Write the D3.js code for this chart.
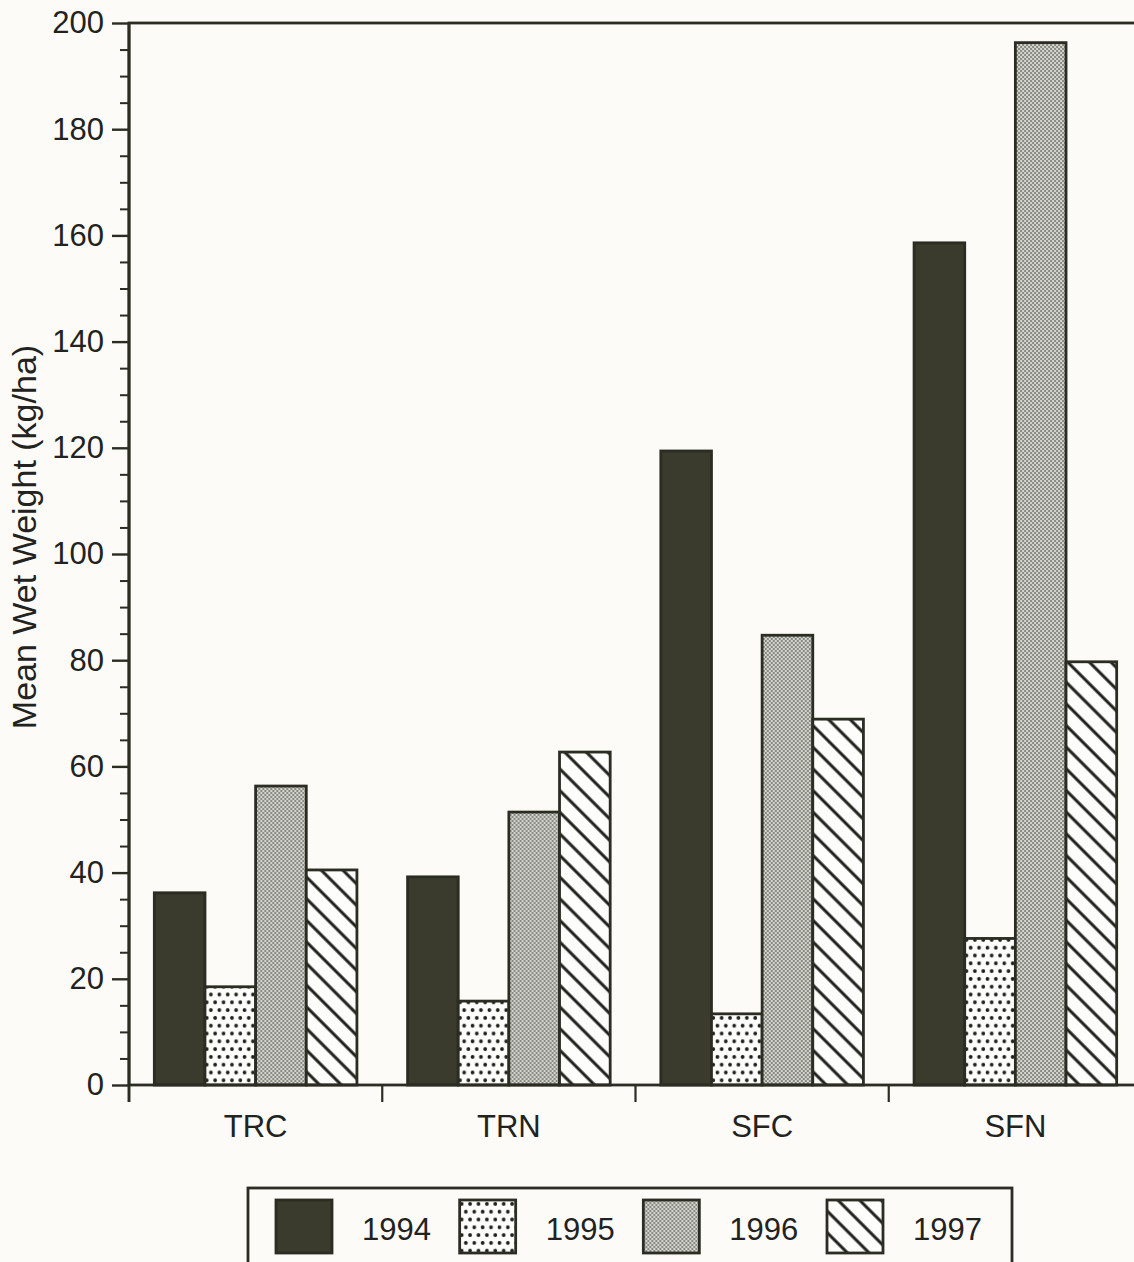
<!DOCTYPE html>
<html>
<head>
<meta charset="utf-8">
<script src="https://cdn.jsdelivr.net/npm/d3@7/dist/d3.min.js"></script>
<style>
  html, body { margin: 0; padding: 0; background: #fcfbf7; }
  svg { display: block; }
  text { font-family: "Liberation Sans", Arial, sans-serif; fill: #222220; }
</style>
</head>
<body>
<svg id="chart" width="1134" height="1262"></svg>
<script>
// ---- data ----
const categories = ["TRC", "TRN", "SFC", "SFN"];
const years = ["1994", "1995", "1996", "1997"];
const v1994 = [36.2, 39.2, 119.4, 158.6];
const v1995 = [18.5, 15.8, 13.4, 27.6];
const v1996 = [56.3, 51.4, 84.7, 196.3];
const v1997 = [40.5, 62.7, 68.9, 79.7];
const majorTicks = [0, 20, 40, 60, 80, 100, 120, 140, 160, 180, 200];
const yTitle = "Mean Wet Weight (kg/ha)";

const series = [v1994, v1995, v1996, v1997];
const ink = "#2b2c22";
const fontFam = '"Liberation Sans", Arial, sans-serif';

const svg = d3.select("#chart");
svg.append("rect").attr("width", 1134).attr("height", 1262).attr("fill", "#fcfbf7");

// ---- patterns ----
const defs = svg.append("defs");
// 1995 dots
const pDots = defs.append("pattern").attr("id", "p1995")
  .attr("patternUnits", "userSpaceOnUse").attr("width", 8.4).attr("height", 15.6);
pDots.append("rect").attr("width", 8.4).attr("height", 15.6).attr("fill", "#fdfdfb");
pDots.append("circle").attr("cx", 2).attr("cy", 3.9).attr("r", 1.9).attr("fill", "#1e1e1a");
pDots.append("circle").attr("cx", 6.2).attr("cy", 11.7).attr("r", 1.9).attr("fill", "#1e1e1a");
// 1996 fine gray checker
const pGray = defs.append("pattern").attr("id", "p1996")
  .attr("patternUnits", "userSpaceOnUse").attr("width", 4).attr("height", 4);
pGray.append("rect").attr("width", 4).attr("height", 4).attr("fill", "#d4d4ce");
pGray.append("rect").attr("x", 0).attr("y", 0).attr("width", 2).attr("height", 2).attr("fill", "#8a8a84");
pGray.append("rect").attr("x", 2).attr("y", 2).attr("width", 2).attr("height", 2).attr("fill", "#8a8a84");
// 1997 diagonal hatch "\"
const hs = 15.3;
const pHatch = defs.append("pattern").attr("id", "p1997")
  .attr("patternUnits", "userSpaceOnUse").attr("width", hs).attr("height", hs)
  .attr("patternTransform", "rotate(45)");
pHatch.append("rect").attr("width", hs).attr("height", hs).attr("fill", "#fdfdfb");
pHatch.append("line").attr("x1", 0).attr("x2", hs).attr("y1", hs / 2).attr("y2", hs / 2)
  .attr("stroke", "#1e1e1a").attr("stroke-width", 3);

const fills = ["#3a3b2c", "url(#p1995)", "url(#p1996)", "url(#p1997)"];

// ---- scales ----
const x0 = d3.scaleBand().domain(categories).range([129, 1142])
  .paddingInner(0.2).paddingOuter(0.1);
const x1 = d3.scaleBand().domain(years).range([0, x0.bandwidth()]);
const y = d3.scaleLinear().domain([0, 200]).range([1085, 23]);

// ---- bars ----
const groups = svg.append("g").selectAll("g").data(categories).join("g")
  .attr("transform", d => `translate(${x0(d)},0)`);
groups.selectAll("rect")
  .data((c, ci) => years.map((yr, yi) => ({ yr, yi, v: series[yi][ci] })))
  .join("rect")
  .attr("x", d => x1(d.yr))
  .attr("y", d => y(d.v))
  .attr("width", x1.bandwidth())
  .attr("height", d => y(0) - y(d.v))
  .attr("fill", d => fills[d.yi])
  .attr("stroke", ink).attr("stroke-width", 2.8);

// ---- frame ----
svg.append("rect")
  .attr("x", 129).attr("y", y(200))
  .attr("width", 1142 - 129).attr("height", y(0) - y(200))
  .attr("fill", "none").attr("stroke", ink).attr("stroke-width", 2.8);

// ---- y axis ----
const minorTicks = d3.range(0, 201, 5).filter(v => v % 20 !== 0);
const yMinor = svg.append("g").attr("transform", "translate(129,0)")
  .call(d3.axisLeft(y).tickValues(minorTicks).tickSize(9).tickFormat(""));
yMinor.select(".domain").remove();
yMinor.selectAll("line").attr("stroke", ink).attr("stroke-width", 2);

const yMajor = svg.append("g").attr("transform", "translate(129,0)")
  .call(d3.axisLeft(y).tickValues(majorTicks).tickSize(17).tickPadding(8));
yMajor.select(".domain").remove();
yMajor.selectAll("line").attr("stroke", ink).attr("stroke-width", 2.4);
yMajor.selectAll("text").attr("font-size", 31).attr("fill", "#222220")
  .style("font-family", fontFam);

// extend y axis below x axis
svg.append("line").attr("x1", 129).attr("x2", 129).attr("y1", y(200)).attr("y2", y(0) + 17)
  .attr("stroke", ink).attr("stroke-width", 2.8);

// ---- x axis ----
const xAxis = svg.append("g").attr("transform", `translate(0,${y(0)})`)
  .call(d3.axisBottom(x0).tickSize(0).tickPadding(30));
xAxis.select(".domain").remove();
xAxis.selectAll("text").attr("font-size", 31).attr("fill", "#222220")
  .style("font-family", fontFam);
const boundaries = categories.map(c => x0(c) - x0.step() * x0.paddingInner() / 2);
svg.append("g").selectAll("line").data(boundaries).join("line")
  .attr("x1", d => d).attr("x2", d => d)
  .attr("y1", y(0)).attr("y2", y(0) + 17)
  .attr("stroke", ink).attr("stroke-width", 2.2);

// ---- y title ----
svg.append("text")
  .attr("transform", "translate(36,537) rotate(-90)")
  .attr("text-anchor", "middle")
  .attr("font-size", 34)
  .text(yTitle);

// ---- legend ----
const legX = d3.scalePoint().domain(years).range([276, 827]);
svg.append("rect").attr("x", 248).attr("y", 1188).attr("width", 764).attr("height", 100)
  .attr("fill", "none").attr("stroke", ink).attr("stroke-width", 2.8);
const leg = svg.append("g").selectAll("g").data(years).join("g")
  .attr("transform", d => `translate(${legX(d)},1200)`);
leg.append("rect").attr("width", 56).attr("height", 53)
  .attr("fill", (d, i) => fills[i]).attr("stroke", ink).attr("stroke-width", 2.8);
leg.append("text").attr("x", 86).attr("y", 40).attr("font-size", 31).text(d => d);
</script>
</body>
</html>
